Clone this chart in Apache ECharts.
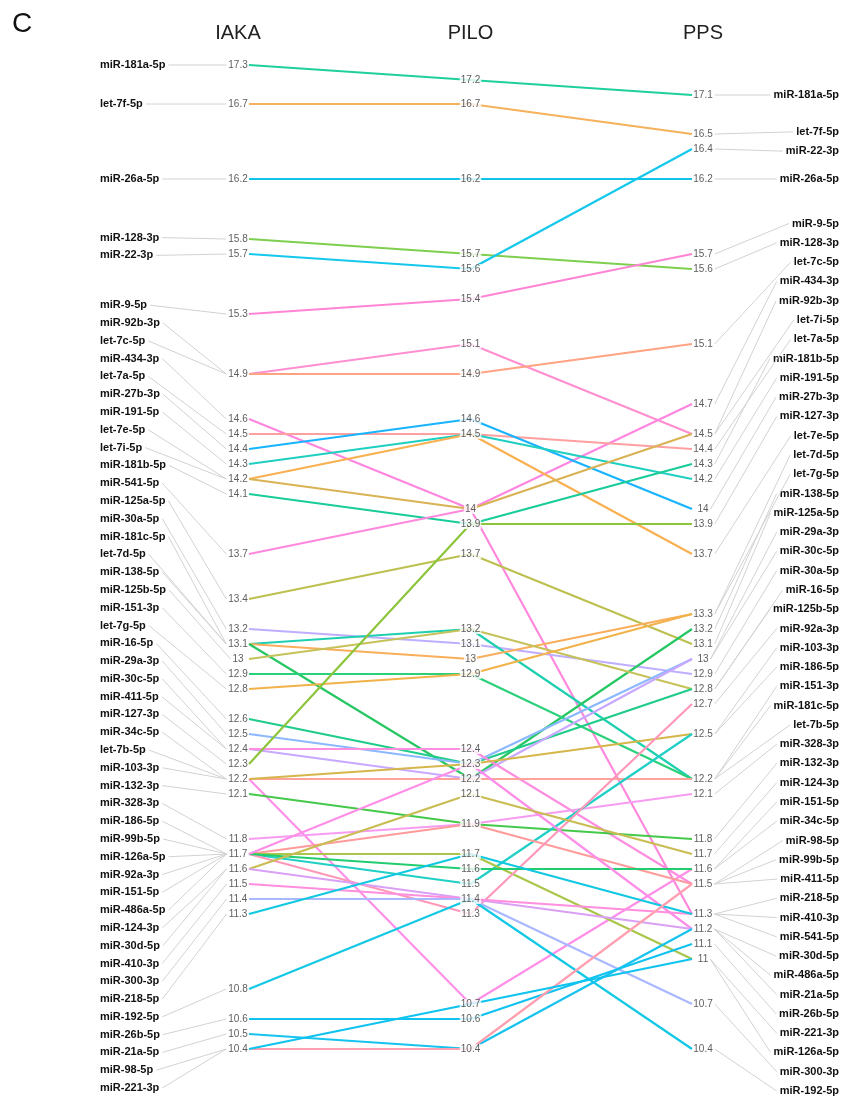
<!DOCTYPE html>
<html><head><meta charset="utf-8">
<script src="https://cdn.jsdelivr.net/npm/echarts@6/dist/echarts.min.js"></script>
<style>html,body{margin:0;padding:0;background:#fff}#c{width:854px;height:1097px}</style>
</head><body><div id="c"></div>
<script>
// ---------- data ----------
const columns = ['IAKA', 'PILO', 'PPS'];
const mirnas = ['miR-181a-5p','let-7f-5p','miR-26a-5p','miR-128-3p','miR-22-3p','miR-9-5p','miR-92b-3p','let-7c-5p','miR-434-3p','let-7a-5p',
  'miR-27b-3p','miR-191-5p','let-7e-5p','let-7i-5p','miR-181b-5p','miR-541-5p','miR-125a-5p','miR-30a-5p','miR-181c-5p','let-7d-5p',
  'miR-138-5p','miR-125b-5p','miR-151-3p','let-7g-5p','miR-16-5p','miR-29a-3p','miR-30c-5p','miR-411-5p','miR-127-3p','miR-34c-5p',
  'let-7b-5p','miR-103-3p','miR-132-3p','miR-328-3p','miR-186-5p','miR-99b-5p','miR-126a-5p','miR-92a-3p','miR-151-5p','miR-486a-5p',
  'miR-124-3p','miR-30d-5p','miR-410-3p','miR-300-3p','miR-218-5p','miR-192-5p','miR-26b-5p','miR-21a-5p','miR-98-5p','miR-221-3p'];
const iaka = [17.3,16.7,16.2,15.8,15.7,15.3,14.9,14.9,14.6,14.5,
  14.4,14.3,14.2,14.2,14.1,13.7,13.4,13.2,13.1,13.1,
  13.1,13.0,12.9,12.8,12.6,12.5,12.4,12.4,12.3,12.2,
  12.2,12.2,12.1,11.8,11.7,11.7,11.7,11.7,11.7,11.7,
  11.6,11.6,11.5,11.4,11.3,10.8,10.6,10.5,10.4,10.4];
const pilo = [17.2,16.7,16.2,15.7,15.6,15.4,15.1,14.9,14.0,14.5,
  14.6,14.5,14.5,14.0,13.9,14.0,13.7,13.1,13.2,13.0,
  12.2,13.2,12.9,12.9,12.3,12.3,12.2,12.4,13.9,10.7,
  12.2,12.3,11.9,11.9,11.5,11.9,11.7,11.3,11.6,12.3,
  12.1,11.4,11.4,11.4,11.7,11.4,10.6,10.4,10.4,10.7];
const pps = [17.1,16.5,16.2,15.6,16.4,15.7,14.5,15.1,14.7,14.4,
  14.0,14.2,13.7,14.5,14.3,11.3,13.1,12.9,12.2,13.3,
  13.2,12.8,12.2,13.3,12.8,13.0,13.0,11.5,13.9,11.6,
  12.2,12.5,11.8,12.1,12.5,11.5,11.0,12.7,11.6,11.2,
  11.7,11.2,11.3,10.7,11.3,10.4,11.1,11.2,11.5,11.0];
const rightOrder = ['miR-181a-5p','let-7f-5p','miR-22-3p','miR-26a-5p','miR-9-5p','miR-128-3p','let-7c-5p','miR-434-3p','miR-92b-3p','let-7i-5p',
  'let-7a-5p','miR-181b-5p','miR-191-5p','miR-27b-3p','miR-127-3p','let-7e-5p','let-7d-5p','let-7g-5p','miR-138-5p','miR-125a-5p',
  'miR-29a-3p','miR-30c-5p','miR-30a-5p','miR-16-5p','miR-125b-5p','miR-92a-3p','miR-103-3p','miR-186-5p','miR-151-3p','miR-181c-5p',
  'let-7b-5p','miR-328-3p','miR-132-3p','miR-124-3p','miR-151-5p','miR-34c-5p','miR-98-5p','miR-99b-5p','miR-411-5p','miR-218-5p',
  'miR-410-3p','miR-541-5p','miR-30d-5p','miR-486a-5p','miR-21a-5p','miR-26b-5p','miR-221-3p','miR-126a-5p','miR-300-3p','miR-192-5p'];

// ---------- styles ----------
const lineColors = ['#1fd09c','#f5b15c','#10c4e8','#7ecf4f','#14c8ec','#ff85d4','#ff8fd0','#ffa382','#ff86e0','#ffa0a0',
  '#18b4ff','#1fcfc0','#f9b050','#d9b255','#19cc9a','#ff88dd','#bcc04f','#bfaeff','#1ecfb0','#f9ae5c',
  '#26c763','#c5c25a','#2bd07a','#f2b24a','#1fcc8a','#8cb8ff','#c9a8ff','#ff8ee0','#8cc43c','#ff8fe8',
  '#ffa29a','#d6b64a','#45c94a','#f79cf0','#20cfc6','#ff9b9b','#a9c64a','#ff98b8','#22cc70','#ff8ee8',
  '#c8bc52','#d9a0f5','#ff8ede','#a9b8ff','#10c8e0','#12c8e4','#10c2f0','#16c3ee','#ff9fb0','#0fc3ef'];
const FAM = '"Liberation Sans", Arial, Helvetica, sans-serif';
const LFONT = 'bold 11px ' + FAM;
const VFONT = '10px ' + FAM;
const VAL_OFF = 11;

const chart = echarts.init(document.getElementById('c'), null, {renderer: 'canvas'});
const series = [];
mirnas.forEach((m, i) => {
  series.push({
    type: 'line', name: m, silent: true, animation: false, symbol: 'none', z: 2,
    data: [[0, iaka[i]], [1, pilo[i]], [2, pps[i]]],
    lineStyle: {width: 2.2, color: lineColors[i]}, itemStyle: {color: lineColors[i]}
  });
});
const cols = [iaka, pilo, pps];
cols.forEach((arr, c) => {
  const vals = [...new Set(arr)].sort((a, b) => b - a);
  series.push({
    type: 'scatter', silent: true, animation: false, z: 5,
    symbol: 'circle', symbolSize: 1, itemStyle: {color: 'rgba(0,0,0,0)'},
    data: vals.map(v => [c, v]),
    label: {
      show: true, position: 'inside', offset: [c === 0 ? -VAL_OFF : (c === 2 ? VAL_OFF : 0), 0],
      formatter: p => String(p.value[1]), fontSize: 10, fontFamily: FAM, color: '#333',
      backgroundColor: c === 1 ? '#fff' : 'transparent', padding: [0, 1]
    }
  });
});

chart.setOption({
  animation: false,
  grid: {left: 249, right: 162, top: 50, bottom: 33},
  xAxis: {type: 'value', min: 0, max: 2, show: false},
  yAxis: {type: 'value', min: 10.3, max: 17.4, show: false,
    breaks: [{start: 16.72, end: 17.08, gap: 0.02}], breakArea: {show: false}},
  series: series
});

// ---------- labels & leaders ----------
const mctx = document.createElement('canvas').getContext('2d');
function tw(t, f) { mctx.font = f; return mctx.measureText(t).width; }
const px = (c, v) => chart.convertToPixel({gridIndex: 0}, [c, v]);

function spread(ys, gap, lo, hi) {
  const y = ys.slice();
  for (let it = 0; it < 4000; it++) {
    let moved = false;
    for (let i = 1; i < y.length; i++) {
      const d = y[i] - y[i - 1];
      if (d < gap - 0.01) { const s = (gap - d) / 2; y[i] += s; y[i - 1] -= s; moved = true; }
    }
    for (let i = 0; i < y.length; i++) { if (y[i] < lo) y[i] = lo; if (y[i] > hi) y[i] = hi; }
    if (!moved) break;
  }
  return y;
}

const g = [];
// titles
columns.forEach((t, c) => {
  const p = px(c, 15);
  const cx = p[0] + (c === 0 ? -VAL_OFF : (c === 2 ? VAL_OFF : 0));
  g.push({type: 'text', x: cx, y: 33, silent: true,
    style: {text: t, font: '20px ' + FAM, fill: '#222', align: 'center', verticalAlign: 'middle'}});
});
g.push({type: 'text', x: 12, y: 24, silent: true,
  style: {text: 'C', font: '28px ' + FAM, fill: '#111', align: 'left', verticalAlign: 'middle'}});

// left labels
const leftY = spread(mirnas.map((m, i) => px(0, iaka[i])[1]), 17.8, 62, 1088);
mirnas.forEach((m, i) => {
  const p = px(0, iaka[i]);
  const lw = tw(m, LFONT);
  const vw = tw(String(iaka[i]), VFONT);
  g.push({type: 'line', silent: true, z: 1,
    shape: {x1: 100 + lw + 3, y1: leftY[i], x2: p[0] - VAL_OFF - vw / 2 - 2, y2: p[1]},
    style: {stroke: '#d2d2d2', lineWidth: 1}});
  g.push({type: 'text', x: 100, y: leftY[i], silent: true,
    style: {text: m, font: LFONT, fill: '#111', align: 'left', verticalAlign: 'middle'}});
});

// right labels
const rIdx = rightOrder.map(n => mirnas.indexOf(n));
const rightY = spread(rIdx.map(i => px(2, pps[i])[1]), 19.3, 92, 1091);
rIdx.forEach((i, k) => {
  const m = mirnas[i];
  const p = px(2, pps[i]);
  const lw = tw(m, LFONT);
  const vw = tw(String(pps[i]), VFONT);
  g.push({type: 'line', silent: true, z: 1,
    shape: {x1: p[0] + VAL_OFF + vw / 2 + 2, y1: p[1], x2: 839 - lw - 3, y2: rightY[k]},
    style: {stroke: '#d2d2d2', lineWidth: 1}});
  g.push({type: 'text', x: 839, y: rightY[k], silent: true,
    style: {text: m, font: LFONT, fill: '#111', align: 'right', verticalAlign: 'middle'}});
});

chart.setOption({graphic: g});
</script>
</body></html>
